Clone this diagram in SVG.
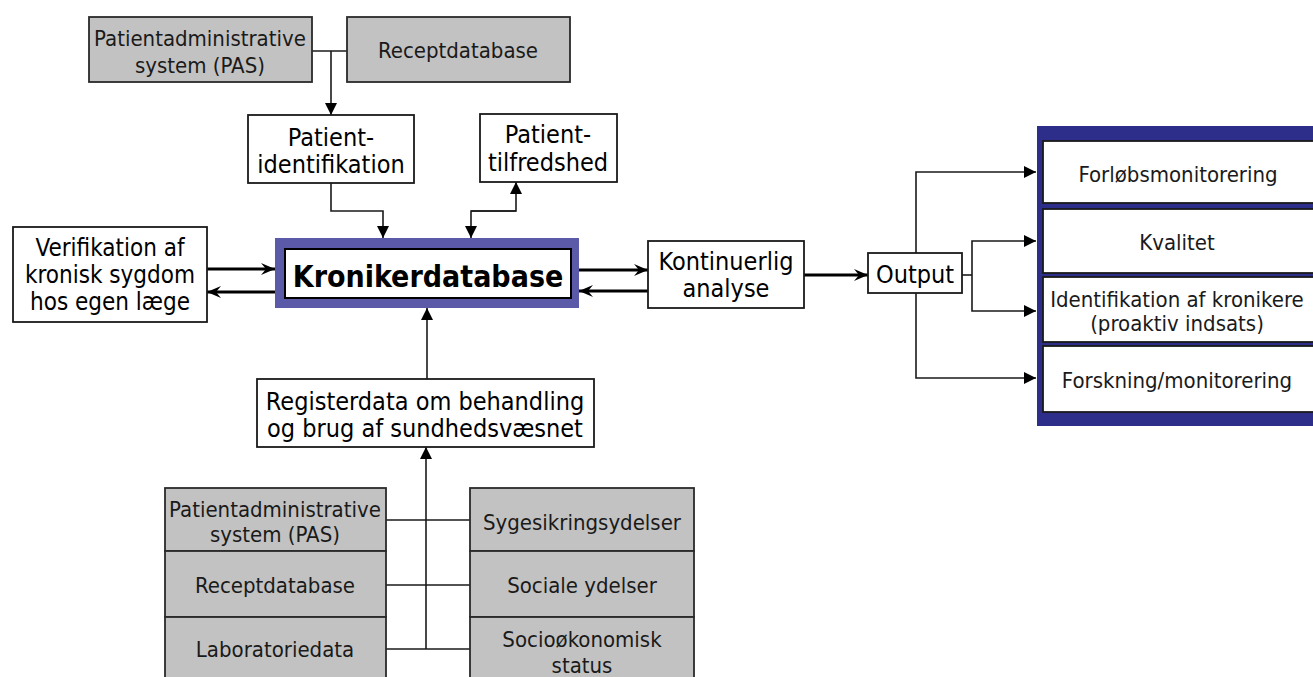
<svg xmlns="http://www.w3.org/2000/svg" width="1313" height="677" viewBox="0 0 1313 677">
<style>
  .box { fill: #ffffff; stroke: #1a1a1a; stroke-width: 1.8; }
  .gray { fill: #c2c2c2; stroke: #2a2a2a; stroke-width: 1.8; }
  .t { font-family: "DejaVu Sans Condensed", "DejaVu Sans", sans-serif; font-stretch: condensed; font-size: 25px; fill: #000; text-anchor: middle; }
  .v { font-size: 24px; }
  .g { font-family: "DejaVu Sans Condensed", "DejaVu Sans", sans-serif; font-stretch: condensed; font-size: 22px; fill: #1a1a1a; text-anchor: middle; }
  .big { font-family: "DejaVu Sans Condensed", "DejaVu Sans", sans-serif; font-stretch: condensed; font-weight: bold; font-size: 30px; fill: #000; text-anchor: middle; }
  .thin { fill: none; stroke: #1a1a1a; stroke-width: 1.6; }
  .thick { fill: none; stroke: #000; stroke-width: 3; }
  .panelTxt { font-family: "DejaVu Sans Condensed", "DejaVu Sans", sans-serif; font-stretch: condensed; font-size: 22px; fill: #1a1a1a; text-anchor: middle; }
</style>
<defs>
  <marker id="tri" markerUnits="userSpaceOnUse" markerWidth="14" markerHeight="12" refX="12" refY="6" orient="auto">
    <path d="M0,0 L12,6 L0,12 Z" fill="#000"/>
  </marker>
  <marker id="barb" markerUnits="userSpaceOnUse" markerWidth="16" markerHeight="14" refX="14" refY="7" orient="auto">
    <path d="M0,1 L14,7 L0,13 L5,7 Z" fill="#000"/>
  </marker>
</defs>
<rect width="1313" height="677" fill="#ffffff"/>

<g id="connectors">
  <path class="thin" d="M312,51 H347"/>
  <path class="thin" d="M331,51 V115" marker-end="url(#tri)"/>
  <path class="thin" d="M331,183 V211 H383 V238" marker-end="url(#tri)"/>
  <path class="thin" d="M516,211 H471 V238" marker-end="url(#tri)"/>
  <path class="thin" d="M471,211 H516 V182" marker-end="url(#tri)"/>
  <path class="thick" d="M207,269 H275" marker-end="url(#barb)"/>
  <path class="thick" d="M275,292 H207" marker-end="url(#barb)"/>
  <path class="thick" d="M579,270 H648" marker-end="url(#barb)"/>
  <path class="thick" d="M648,291 H579" marker-end="url(#barb)"/>
  <path class="thick" d="M804,275 H868" marker-end="url(#barb)"/>
  <path class="thin" d="M916,253 V172 H1036" marker-end="url(#tri)"/>
  <path class="thin" d="M916,293 V378 H1036" marker-end="url(#tri)"/>
  <path class="thin" d="M962,275 H972"/>
  <path class="thin" d="M972,275 V241 H1036" marker-end="url(#tri)"/>
  <path class="thin" d="M972,275 V311 H1036" marker-end="url(#tri)"/>
  <path class="thin" d="M427,379 V308" marker-end="url(#tri)"/>
  <path class="thin" d="M386,520 H470"/>
  <path class="thin" d="M386,585 H470"/>
  <path class="thin" d="M386,649 H470"/>
  <path class="thin" d="M426,649 V447" marker-end="url(#tri)"/>
</g>

<g id="pas-top">
  <rect class="gray" x="89" y="17" width="223" height="65"/>
  <text class="g" x="200" y="46">Patientadministrative</text>
  <text class="g" x="200" y="73">system (PAS)</text>
</g>
<g id="recept-top">
  <rect class="gray" x="347" y="17" width="223" height="65"/>
  <text class="g" x="458" y="58">Receptdatabase</text>
</g>
<g id="patient-identifikation">
  <rect class="box" x="248" y="115" width="166" height="68"/>
  <text class="t" x="331" y="146">Patient-</text>
  <text class="t" x="331" y="173">identifikation</text>
</g>
<g id="patient-tilfredshed">
  <rect class="box" x="480" y="114" width="137" height="68"/>
  <text class="t" x="548" y="143">Patient-</text>
  <text class="t" x="548" y="171">tilfredshed</text>
</g>
<g id="verifikation">
  <rect class="box" x="13" y="227" width="194" height="95"/>
  <text class="t v" x="110" y="256">Verifikation af</text>
  <text class="t v" x="110" y="283">kronisk sygdom</text>
  <text class="t v" x="110" y="310">hos egen læge</text>
</g>
<g id="kronikerdatabase">
  <rect x="275" y="238" width="304" height="70" fill="#5a5aa8"/>
  <rect x="285" y="249" width="286" height="49" fill="#ffffff" stroke="#000" stroke-width="2"/>
  <text class="big" x="428" y="287">Kronikerdatabase</text>
</g>
<g id="kontinuerlig">
  <rect class="box" x="648" y="241" width="156" height="67"/>
  <text class="t" x="726" y="270">Kontinuerlig</text>
  <text class="t" x="726" y="297">analyse</text>
</g>
<g id="output">
  <rect class="box" x="868" y="253" width="94" height="40"/>
  <text class="t" x="915" y="283">Output</text>
</g>
<g id="output-panel">
  <rect x="1037" y="126" width="290" height="300" fill="#2d2d8a"/>
  <g id="forloeb">
    <rect class="box" x="1043" y="141" width="290" height="62"/>
    <text class="panelTxt" x="1178" y="182">Forløbsmonitorering</text>
  </g>
  <g id="kvalitet">
    <rect class="box" x="1043" y="209" width="290" height="64"/>
    <text class="panelTxt" x="1177" y="250">Kvalitet</text>
  </g>
  <g id="identifikation">
    <rect class="box" x="1043" y="277" width="290" height="65"/>
    <text class="panelTxt" x="1177" y="307">Identifikation af kronikere</text>
    <text class="panelTxt" x="1177" y="331">(proaktiv indsats)</text>
  </g>
  <g id="forskning">
    <rect class="box" x="1043" y="346" width="290" height="66"/>
    <text class="panelTxt" x="1177" y="388">Forskning/monitorering</text>
  </g>
</g>
<g id="registerdata">
  <rect class="box" x="257" y="379" width="337" height="68"/>
  <text class="t" x="425" y="410">Registerdata om behandling</text>
  <text class="t" x="425" y="437">og brug af sundhedsvæsnet</text>
</g>
<g id="pas-bottom">
  <rect class="gray" x="165" y="488" width="221" height="63"/>
  <text class="g" x="275" y="517">Patientadministrative</text>
  <text class="g" x="275" y="542">system (PAS)</text>
</g>
<g id="recept-bottom">
  <rect class="gray" x="165" y="551" width="221" height="66"/>
  <text class="g" x="275" y="593">Receptdatabase</text>
</g>
<g id="laboratorie">
  <rect class="gray" x="165" y="617" width="221" height="70"/>
  <text class="g" x="275" y="657">Laboratoriedata</text>
</g>
<g id="sygesikring">
  <rect class="gray" x="470" y="488" width="224" height="63"/>
  <text class="g" x="582" y="530">Sygesikringsydelser</text>
</g>
<g id="sociale">
  <rect class="gray" x="470" y="551" width="224" height="66"/>
  <text class="g" x="582" y="593">Sociale ydelser</text>
</g>
<g id="socio">
  <rect class="gray" x="470" y="617" width="224" height="70"/>
  <text class="g" x="582" y="647">Socioøkonomisk</text>
  <text class="g" x="582" y="673">status</text>
</g>
</svg>
